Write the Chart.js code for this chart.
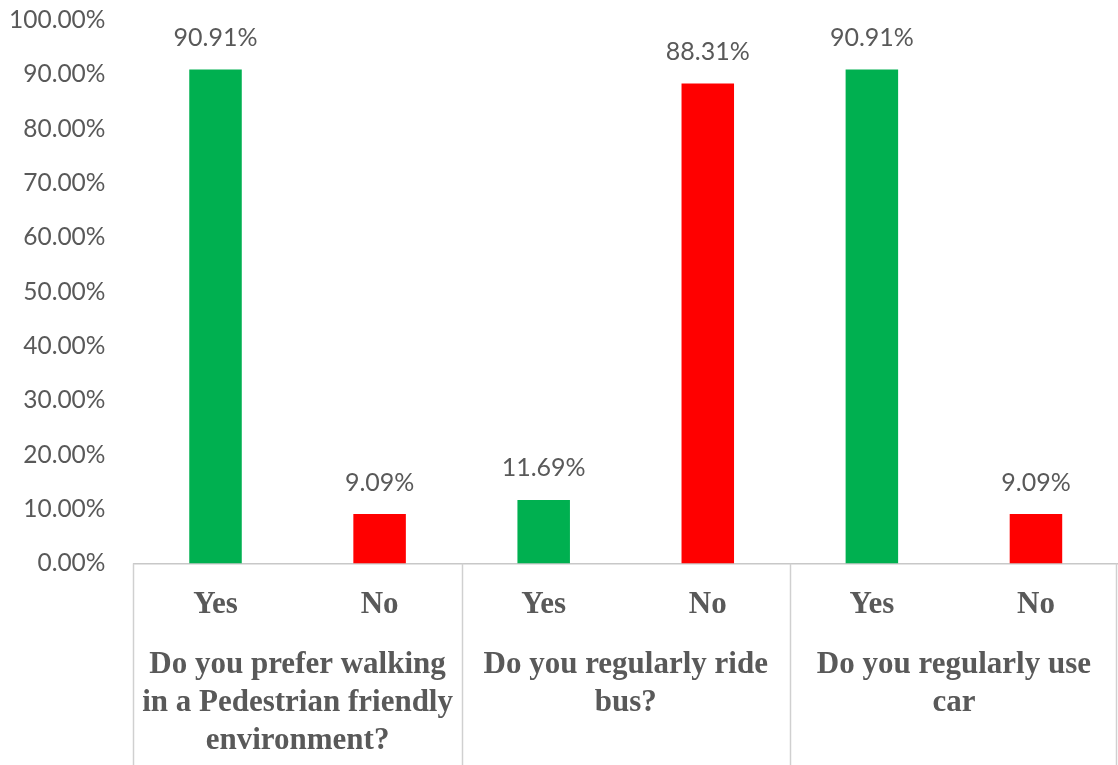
<!DOCTYPE html>
<html>
<head>
<meta charset="utf-8">
<script src="https://cdn.jsdelivr.net/npm/chart.js@4"></script>
<style>
  html, body { margin: 0; padding: 0; background: #fff; }
  #wrap { width: 1118px; height: 765px; }
</style>
</head>
<body>
<div id="wrap"><canvas id="surveyChart"></canvas></div>
<script>
const answers = ['Yes', 'No', 'Yes', 'No', 'Yes', 'No'];
const questions = [
    ['Do you prefer walking', 'in a Pedestrian friendly', 'environment?'],
    ['Do you regularly ride', 'bus?'],
    ['Do you regularly use', 'car']
];
const percentages = [90.91, 9.09, 11.69, 88.31, 90.91, 9.09];
const barColors = ['#00B050', '#FF0000', '#00B050', '#FF0000', '#00B050', '#FF0000'];

const textGray = '#595959';

// value labels above each bar
const valueLabels = {
    id: 'value_labels',
    afterDatasetsDraw: (chart) => {
        const ctx = chart.ctx;
        const meta = chart.getDatasetMeta(0);
        ctx.save();
        ctx.fillStyle = textGray;
        ctx.font = '25px Lato';
        ctx.textAlign = 'center';
        ctx.textBaseline = 'bottom';
        meta.data.forEach((bar, i) => {
            ctx.fillText(percentages[i].toFixed(2) + '%', bar.x, bar.y - 19);
        });
        ctx.restore();
    }
};

// vertical separators between the question groups
const groupLines = {
    id: 'group_lines',
    afterDraw: (chart) => {
        const ctx = chart.ctx;
        const x = chart.scales.x;
        const area = chart.chartArea;
        const edges = [area.left];
        for (let i = 2; i < answers.length; i += 2) {
            edges.push((x.getPixelForValue(i - 1) + x.getPixelForValue(i)) / 2);
        }
        edges.push(area.right - 2);
        ctx.save();
        ctx.strokeStyle = '#d0d0d0';
        ctx.lineWidth = 1.5;
        edges.forEach((px) => {
            ctx.beginPath();
            ctx.moveTo(Math.round(px) + 0.5, area.bottom);
            ctx.lineTo(Math.round(px) + 0.5, chart.height);
            ctx.stroke();
        });
        ctx.restore();
    }
};

const bg = {
    id: 'white_bg',
    beforeDraw: (chart) => {
        const ctx = chart.ctx;
        ctx.save();
        ctx.fillStyle = 'white';
        ctx.fillRect(0, 0, chart.width, chart.height);
        ctx.restore();
    }
};

new Chart(document.getElementById('surveyChart'), {
    type: 'bar',
    data: {
        labels: answers,
        datasets: [{
            data: percentages,
            backgroundColor: barColors,
            categoryPercentage: 1,
            barPercentage: 0.32
        }]
    },
    plugins: [bg, valueLabels, groupLines],
    options: {
        responsive: true,
        maintainAspectRatio: false,
        animation: false,
        layout: { padding: { left: 9, right: 0, top: 20, bottom: 6 } },
        plugins: {
            legend: { display: false },
            tooltip: { enabled: false }
        },
        scales: {
            y: {
                min: 0,
                max: 100,
                ticks: {
                    stepSize: 10,
                    padding: 0,
                    color: textGray,
                    font: { family: 'Lato', size: 24.5 },
                    callback: (v) => v.toFixed(2) + '%'
                },
                grid: { display: false, tickLength: 28 },
                border: { display: false }
            },
            x: {
                weight: 0,
                ticks: {
                    padding: 15,
                    color: textGray,
                    font: { family: 'Liberation Serif', size: 31, weight: 'bold' }
                },
                grid: { display: false },
                border: { display: true, color: '#c8c8c8', width: 1.5, dash: [3, 2] }
            },
            x2: {
                type: 'category',
                position: 'bottom',
                labels: questions,
                offset: true,
                weight: 1,
                ticks: {
                    padding: -1,
                    maxRotation: 0,
                    color: textGray,
                    font: { family: 'Liberation Serif', size: 31, weight: 'bold', lineHeight: 1.23 }
                },
                grid: { display: false },
                border: { display: false }
            }
        }
    }
});
</script>
</body>
</html>
